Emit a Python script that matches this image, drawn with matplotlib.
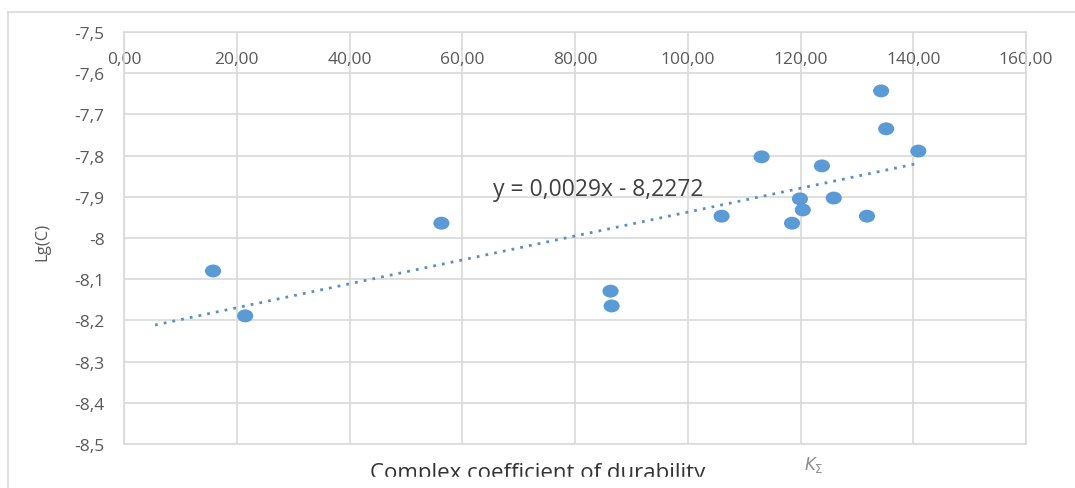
import numpy as np
import matplotlib.pyplot as plt
from matplotlib.path import Path
from matplotlib.transforms import Affine2D
from matplotlib.lines import Line2D

plt.rcParams['font.family'] = ['Open Sans', 'DejaVu Sans']

# data
k_sum = [15.8, 21.5, 56.3, 86.3, 86.5, 106.0, 113.1, 118.5, 119.9, 120.4,
         123.8, 125.9, 131.8, 134.3, 135.2, 140.9]
lg_c = [-8.080, -8.189, -7.964, -8.129, -8.165, -7.947, -7.803, -7.964, -7.905,
        -7.932, -7.825, -7.903, -7.947, -7.643, -7.735, -7.789]
slope = 0.0029
intercept = -8.2272
trend_x = [5.5, 140.9]

x_ticks = [0, 20, 40, 60, 80, 100, 120, 140, 160]
y_ticks = [-7.5, -7.6, -7.7, -7.8, -7.9, -8.0, -8.1, -8.2, -8.3, -8.4, -8.5]
y_labels = ['-7,5', '-7,6', '-7,7', '-7,8', '-7,9', '-8', '-8,1', '-8,2', '-8,3', '-8,4', '-8,5']

fig = plt.figure(figsize=(10.75, 4.89), dpi=100)
# outer chart frame (only top and left edges are visible)
fx, fy = 8 / 1075, 1 - 13 / 489
fig.add_artist(Line2D([fx, 1.0], [fy, fy], transform=fig.transFigure, color='#d9d9d9', lw=1.2))
fig.add_artist(Line2D([fx, fx], [0, fy], transform=fig.transFigure, color='#d9d9d9', lw=1.2))

ax = fig.add_axes([124 / 1075, 1 - 445 / 489, 902 / 1075, 412 / 489])
ax.set_xlim(0, 160)
ax.set_ylim(-8.5, -7.5)
ax.set_xticks(x_ticks)
ax.set_xticklabels([('%.2f' % v).replace('.', ',') for v in x_ticks])
ax.set_yticks(y_ticks)
ax.set_yticklabels(y_labels)
ax.grid(True, color='#d9d9d9', lw=1.2)
ax.set_axisbelow(True)
for s in ax.spines.values():
    s.set_color('#d9d9d9')
    s.set_linewidth(1.2)

ax.xaxis.tick_top()
ax.tick_params(axis='x', length=0, pad=-25, labelsize=12.5, colors='#595959')
ax.tick_params(axis='y', length=0, pad=14, labelsize=12.5, colors='#595959')

tx = np.array(trend_x)
ax.plot(tx, slope * tx + intercept, ls=(0, (1, 2.2)), color='#5b8fc0', lw=2)

ellipse = Path.unit_circle().transformed(Affine2D().scale(1.0, 0.8))
ax.scatter(k_sum, lg_c, s=135, marker=ellipse, color='#5b9bd5', zorder=3, edgecolors='none')

ax.text(84.1, -7.881, 'y = 0,0029x - 8,2272', fontsize=16.5, color='#404040',
        ha='center', va='center')

ax.set_ylabel('Lg(C)', fontsize=12, color='#595959')
ax.yaxis.set_label_coords(-0.082, 0.493)

fig.text(538 / 1075, 1 - 479 / 489, 'Complex coefficient of durability',
         fontsize=16, color='#333333', ha='center', va='baseline')
# the reference image is cut just above the baseline of this title
fig.add_artist(plt.Rectangle((350 / 1075, 0), 390 / 1075, 11 / 489,
                             transform=fig.transFigure, color='white', zorder=10))
fig.text(814 / 1075, 1 - 465 / 489, r'$K_\Sigma$', fontsize=12, color='#8c8c8c',
         ha='center', va='center')

fig.savefig('out.png', dpi=100)
